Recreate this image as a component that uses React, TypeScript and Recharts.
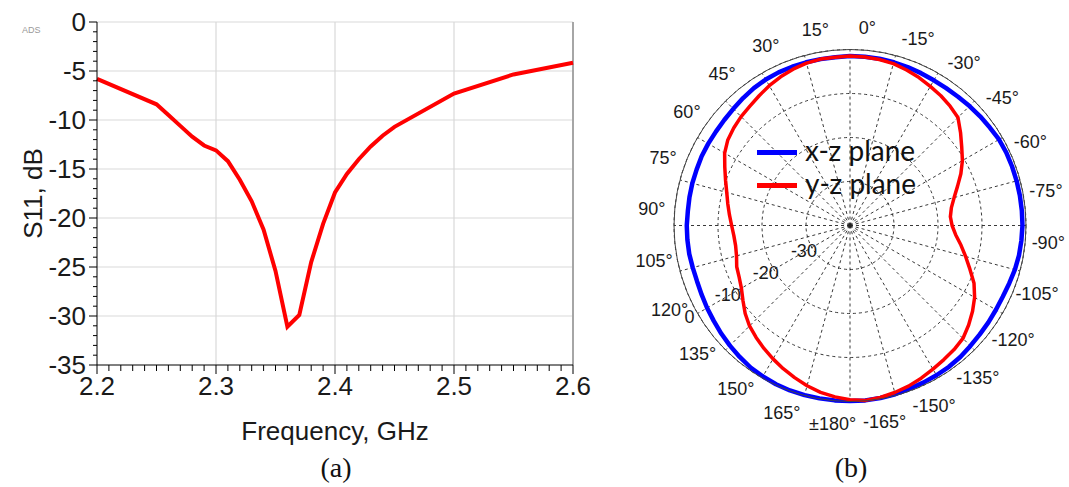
import {
  LineChart,
  Line,
  XAxis,
  YAxis,
  ReferenceLine,
  RadarChart,
  Radar,
  PolarGrid,
  PolarAngleAxis,
  PolarRadiusAxis,
  Legend,
} from "recharts";

// (a) S11 vs frequency
const FREQ_GHZ = [
  2.2, 2.25, 2.26, 2.27, 2.28, 2.29, 2.3, 2.31, 2.32, 2.33, 2.34, 2.35, 2.36,
  2.37, 2.38, 2.39, 2.4, 2.41, 2.42, 2.43, 2.44, 2.45, 2.5, 2.55, 2.6,
];
const S11_DB = [
  -5.8, -8.4, -9.5, -10.6, -11.7, -12.6, -13.1, -14.2, -16.1, -18.3, -21.2,
  -25.4, -31.1, -29.9, -24.5, -20.6, -17.4, -15.5, -14.0, -12.7, -11.6, -10.7,
  -7.3, -5.35, -4.15,
];
const FREQ_MAJOR = [2.2, 2.3, 2.4, 2.5, 2.6];
const S11_MAJOR = [0, -5, -10, -15, -20, -25, -30, -35];
const FREQ_TICKS = Array.from({ length: 41 }, (_, i) => Math.round((2.2 + i * 0.01) * 100) / 100);
const S11_TICKS = Array.from({ length: 36 }, (_, i) => (i === 0 ? 0 : -i));

// (b) radiation pattern, angle counted counter-clockwise from the top
const ANGLES = [
  0, 5, 10, 15, 20, 25, 30, 35, 40, 45, 50, 55, 60, 65, 70, 75, 80, 85, 90, 95,
  100, 105, 110, 115, 120, 125, 130, 135, 140, 145, 150, 155, 160, 165, 170,
  175, 180, 185, 190, 195, 200, 205, 210, 215, 220, 225, 230, 235, 240, 245,
  250, 255, 260, 265, 270, 275, 280, 285, 290, 295, 300, 305, 310, 315, 320,
  325, 330, 335, 340, 345, 350, 355,
];
const XZ_PLANE = [
  -1.6, -1.6, -1.6, -1.6, -1.6, -1.7, -1.9, -2.2, -2.5, -2.7, -2.8, -2.8, -2.8,
  -2.9, -2.9, -2.95, -3.0, -2.9, -2.9, -2.9, -3.0, -3.0, -2.8, -2.5, -2.2,
  -1.8, -1.4, -1.0, -0.6, -0.4, -0.2, -0.1, -0.1, -0.1, -0.1, -0.1, -0.1,
  // -175 ... -5
  -0.2, -0.3, -0.5, -0.6, -0.7, -0.8, -1.0, -1.3, -1.5, -1.6, -1.7, -1.7,
  -1.5, -1.2, -1.0, -0.9, -0.8, -0.8, -0.8, -0.8, -0.8, -0.8, -0.9, -1.2,
  -1.4, -1.6, -1.8, -1.9, -1.9, -1.8, -1.7, -1.6, -1.5, -1.5, -1.5,
];
const YZ_PLANE = [
  -1.6, -1.6, -1.8, -2.2, -2.7, -3.3, -4.0, -4.6, -5.0, -5.5, -6.1, -7.1, -8.6,
  -9.9, -11.0, -11.8, -12.5, -13.1, -13.5, -13.6, -13.3, -12.6, -12.2, -11.5,
  -10.3, -8.9, -7.7, -6.8, -5.9, -5.0, -4.1, -3.2, -2.3, -1.5, -0.9, -0.4,
  -0.1,
  // -175 ... -5
  -0.3, -0.7, -1.15, -1.7, -2.3, -2.8, -3.2, -3.7, -4.8, -6.0, -7.3, -8.9,
  -11.0, -12.8, -14.4, -15.9, -16.8, -17.1, -16.6, -15.5, -14.0, -12.2, -10.5,
  -9.0, -7.2, -5.3, -4.6, -4.0, -3.5, -2.9, -2.4, -1.9, -1.7, -1.55, -1.5,
];
const SPOKES = [0, 15, 30, 45, 60, 75, 90, 105, 120, 135, 150, 165, 180, 195, 210, 225, 240, 255, 270, 285, 300, 315, 330, 345];
const SERIES = [
  { key: "xz", name: "x-z plane", color: "#0000ff", width: 4.5 },
  { key: "yz", name: "y-z plane", color: "#ff0000", width: 3.5 },
];

const s11Data = FREQ_GHZ.map((f, i) => ({ f, s11: S11_DB[i] }));
const polarData = ANGLES.map((angle, i) => ({ angle, xz: XZ_PLANE[i], yz: YZ_PLANE[i] }));

const SANS = "'Liberation Sans', Arial, sans-serif";
const INK = "#1a1a1a";

function YTick({ x, y, payload }: any) {
  const v = payload.value;
  const major = S11_MAJOR.includes(v);
  return (
    <g>
      <line x1={x - (major ? 8 : 4)} x2={x} y1={y} y2={y} stroke="#000" />
      {major && (
        <text x={x - 11} y={y} dy="0.36em" textAnchor="end" fontSize={26} fontFamily={SANS} fill={INK}>
          {v}
        </text>
      )}
    </g>
  );
}

function XTick({ x, y, payload }: any) {
  const v = payload.value;
  const major = FREQ_MAJOR.some((m) => Math.abs(m - v) < 1e-6);
  return (
    <g>
      <line x1={x} x2={x} y1={y} y2={y + (major ? 9 : 6)} stroke="#000" />
      {major && (
        <text x={x} y={y + 30} textAnchor="middle" fontSize={26} fontFamily={SANS} fill={INK}>
          {v.toFixed(1)}
        </text>
      )}
    </g>
  );
}

function angleLabel(a: number) {
  if (a === 0) return "0°";
  if (a === 180) return "±180°";
  return a < 180 ? `${a}°` : `-${360 - a}°`;
}

function AngleTick({ x, y, payload }: any) {
  const a = payload.value as number;
  if (a % 15 !== 0) return <g />;
  return (
    <text x={x} y={y} dy="0.36em" textAnchor="middle" fontSize={18} fontFamily={SANS} fill={INK}>
      {angleLabel(a)}
    </text>
  );
}

function RadiusTick({ x, y, payload }: any) {
  if (payload.value === -40) return <g />;
  return (
    <text x={x - 8} y={y + 3} dy="0.36em" textAnchor="middle" fontSize={18} fontFamily={SANS} fill={INK}>
      {payload.value}
    </text>
  );
}

function PolarLegend() {
  return (
    <div style={{ fontFamily: "Lato, 'Open Sans', sans-serif", fontSize: 28, color: "#111" }}>
      {SERIES.map((s) => (
        <div key={s.key} style={{ display: "flex", alignItems: "center", height: 33 }}>
          <span style={{ display: "inline-block", width: 40, height: 4.5, background: s.color, marginRight: 8 }} />
          <span style={{ lineHeight: "33px", marginTop: -4 }}>{s.name}</span>
        </div>
      ))}
    </div>
  );
}

export default function App() {
  return (
    <div style={{ position: "absolute", left: 0, top: 0, width: 1069, height: 487, background: "#fff", overflow: "hidden" }}>
      <div style={{ position: "absolute", left: 22, top: 25, fontSize: 9, color: "#999", fontFamily: SANS }}>ADS</div>

      <div style={{ position: "absolute", left: 0, top: 0 }}>
        <LineChart width={600} height={460} data={s11Data} margin={{ top: 22, right: 27, left: 0, bottom: 55 }}>
          <XAxis
            dataKey="f"
            type="number"
            domain={[2.2, 2.6]}
            ticks={FREQ_TICKS}
            interval={0}
            tick={<XTick />}
            tickLine={false}
            tickSize={0}
            tickMargin={0}
            height={40}
            axisLine={{ stroke: "#000" }}
            label={(props: any) => {
              const vb = props.viewBox || { x: 97, y: 365, width: 476 };
              return (
                <text x={vb.x + vb.width / 2} y={vb.y + 75} textAnchor="middle" fontSize={26} fontFamily={SANS} fill={INK}>
                  Frequency, GHz
                </text>
              );
            }}
          />
          <YAxis
            type="number"
            domain={[-35, 0]}
            ticks={S11_TICKS}
            interval={0}
            tick={<YTick />}
            tickLine={false}
            tickSize={0}
            tickMargin={0}
            width={97}
            axisLine={{ stroke: "#000" }}
            label={(props: any) => {
              const vb = props.viewBox || { x: 0, y: 22, height: 343 };
              const cx = vb.x + 33;
              const cy = vb.y + vb.height / 2;
              return (
                <text x={cx} y={cy} dy="0.36em" textAnchor="middle" transform={`rotate(-90, ${cx}, ${cy})`} fontSize={26} fontFamily={SANS} fill={INK}>
                  S11, dB
                </text>
              );
            }}
          />
          {S11_MAJOR.filter((v) => v !== -35).map((v) => (
            <ReferenceLine key={`h${v}`} y={v} stroke="#d9d9d9" strokeWidth={1.2} />
          ))}
          {FREQ_MAJOR.filter((v) => v !== 2.2 && v !== 2.6).map((v) => (
            <ReferenceLine key={`v${v}`} x={v} stroke="#d9d9d9" strokeWidth={1.2} />
          ))}
          <ReferenceLine x={2.6} stroke="#a6a6a6" strokeWidth={2} />
          <Line type="linear" dataKey="s11" stroke="#ff0000" strokeWidth={4} dot={false} isAnimationActive={false} />
        </LineChart>
      </div>

      <div style={{ position: "absolute", left: 620, top: 0 }}>
        <RadarChart
          width={449}
          height={440}
          data={polarData}
          cx={230}
          cy={225.5}
          outerRadius={176}
          startAngle={90}
          endAngle={450}
          margin={{ top: 0, right: 0, bottom: 0, left: 0 }}
        >
          <PolarGrid
            gridType="circle"
            polarAngles={SPOKES}
            stroke="#222"
            strokeWidth={0.9}
            strokeDasharray="3 3"
          />
          <PolarAngleAxis
            dataKey="angle"
            type="category"
            axisLineType="circle"
            axisLine={{ stroke: "#444", strokeWidth: 1 }}
            tickLine={false}
            tickSize={23}
            tick={<AngleTick />}
          />
          <PolarRadiusAxis
            type="number"
            angle={210}
            domain={[-40, 0]}
            tickCount={5}
            axisLine={false}
            tickLine={false}
            tick={<RadiusTick />}
          />
          {SERIES.map((s) => (
            <Radar
              key={s.key}
              name={s.name}
              dataKey={s.key}
              stroke={s.color}
              strokeWidth={s.width}
              strokeLinejoin="round"
              fill="none"
              fillOpacity={0}
              dot={false}
              isAnimationActive={false}
            />
          ))}
          <Legend content={<PolarLegend />} wrapperStyle={{ left: 137, top: 136, width: 200, height: 70 }} />
        </RadarChart>
      </div>

      <div style={{ position: "absolute", left: 336, top: 468, transform: "translate(-50%, -50%)", fontFamily: "'Liberation Serif', 'Times New Roman', serif", fontSize: 28, color: "#111" }}>
        (a)
      </div>
      <div style={{ position: "absolute", left: 851, top: 468, transform: "translate(-50%, -50%)", fontFamily: "'Liberation Serif', 'Times New Roman', serif", fontSize: 28, color: "#111" }}>
        (b)
      </div>
    </div>
  );
}
